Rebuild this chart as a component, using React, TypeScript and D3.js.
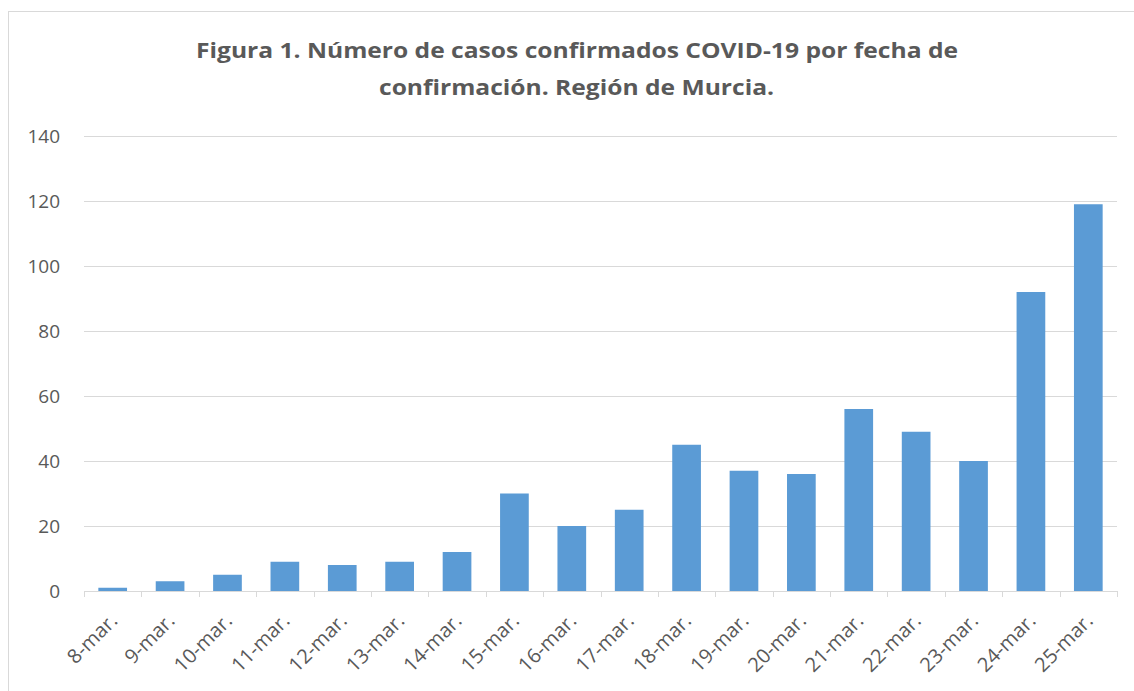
import React from "react";
import * as d3 from "d3";

const categories = ["8-mar.","9-mar.","10-mar.","11-mar.","12-mar.","13-mar.","14-mar.","15-mar.","16-mar.","17-mar.","18-mar.","19-mar.","20-mar.","21-mar.","22-mar.","23-mar.","24-mar.","25-mar."];
const values = [1,3,5,9,8,9,12,30,20,25,45,37,36,56,49,40,92,119];
const yTicks = [0,20,40,60,80,100,120,140];
const titleLines = ["Figura 1. Número de casos confirmados COVID-19 por fecha de", "confirmación. Región de Murcia."];

const W = 1134, H = 691;
const left = 84, right = 1117, top = 136, bottom = 591;
const font = "'Open Sans', 'Noto Sans', sans-serif";
const textColor = "#595959";

export default function App() {
  const x = d3.scaleBand<string>().domain(categories).range([left, right]).paddingInner(0.5).paddingOuter(0.25);
  const y = d3.scaleLinear().domain([0, 140]).range([bottom, top]);
  const band = d3.scaleBand<string>().domain(categories).range([left, right]);
  return (
    <svg width={W} height={H} style={{ position: "absolute", left: 0, top: 0, background: "#fff" }}>
      <rect x={8.5} y={11.5} width={1140} height={700} fill="#fff" stroke="#d9d9d9" strokeWidth={1} />
      <text x={577} y={58} textAnchor="middle" fontFamily={font} fontWeight="bold" fontSize={21.5} fill={textColor} textLength={762} lengthAdjust="spacingAndGlyphs">{titleLines[0]}</text>
      <text x={576.5} y={95} textAnchor="middle" fontFamily={font} fontWeight="bold" fontSize={21.5} fill={textColor} textLength={395} lengthAdjust="spacingAndGlyphs">{titleLines[1]}</text>
      {yTicks.map((t) => (
        <g key={t}>
          {t > 0 && <line x1={left} x2={right} y1={Math.round(y(t)) + 0.5} y2={Math.round(y(t)) + 0.5} stroke="#d9d9d9" strokeWidth={1} />}
          <text x={60} y={y(t) + 7} textAnchor="end" fontFamily={font} fontSize={19} fill={textColor}>{t}</text>
        </g>
      ))}
      {categories.map((c, i) => (
        <rect key={c} x={x(c)} y={y(values[i])} width={x.bandwidth()} height={bottom - y(values[i])} fill="#5b9bd5" />
      ))}
      <line x1={left} x2={right} y1={bottom + 0.5} y2={bottom + 0.5} stroke="#d9d9d9" strokeWidth={1} />
      {[...categories.map((c) => band(c) as number), right].map((tx, i) => (
        <line key={i} x1={Math.round(tx) + 0.5} x2={Math.round(tx) + 0.5} y1={bottom} y2={bottom + 6} stroke="#d9d9d9" strokeWidth={1} />
      ))}
      {categories.map((c) => {
        const cx = (band(c) as number) + band.bandwidth() / 2 + 6;
        const cy = 622;
        return (
          <text key={c} x={cx} y={cy} textAnchor="end" fontFamily={font} fontSize={20} fill={textColor} transform={`rotate(-45, ${cx}, ${cy})`}>{c}</text>
        );
      })}
    </svg>
  );
}
